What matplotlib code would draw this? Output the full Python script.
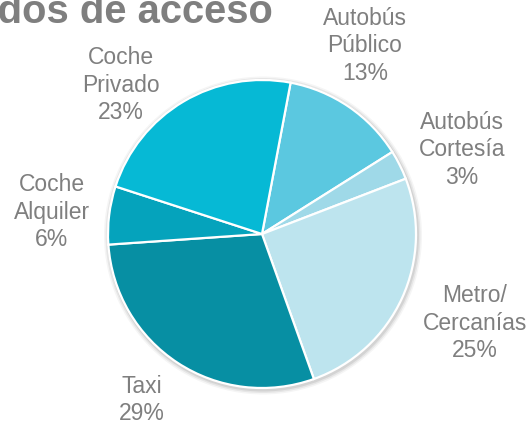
import matplotlib.pyplot as plt
from matplotlib.patches import Circle

plt.rcParams['font.family'] = ['Liberation Sans', 'DejaVu Sans']

# data (share of each access mode, clockwise from the top)
modes = ['Autobús\nPúblico', 'Autobús\nCortesía', 'Metro/\nCercanías',
         'Taxi', 'Coche\nAlquiler', 'Coche\nPrivado']
shares = [13.1, 3.1, 25.4, 29.4, 6.1, 23.0]
colors = ['#5BC8E0', '#9FD9E8', '#BDE4EE', '#078FA3', '#05A3BC', '#06B9D5']

# label positions in pixels (x, y from top)
label_pos = [(365, 46), (462, 150), (475, 323), (142, 400), (52, 212), (121, 85)]

W, H = 528, 424
fig = plt.figure(figsize=(W / 100, H / 100), dpi=100)
ax = fig.add_axes([0, 0, 1, 1])

cx, cy, r = 262, H - 234, 154

# soft shadow behind the pie
for k, a in [(5, 0.04), (3.5, 0.06), (2, 0.08)]:
    ax.add_patch(Circle((cx + 1, cy - 1.5), r + k, color='black', alpha=a, lw=0, zorder=0))

ax.pie(shares, colors=colors, startangle=79.3, counterclock=False,
       center=(cx, cy), radius=r,
       wedgeprops=dict(edgecolor='white', linewidth=1.6, zorder=1))

for name, v, (x, y) in zip(modes, shares, label_pos):
    ax.text(x, H - y, f"{name}\n{v:.0f}%", ha='center', va='center',
            fontsize=16.5, color='#7F7F7F', linespacing=1.25)

ax.text(272.5, H - 23.3, 'Modos de acceso', ha='right', va='baseline',
        fontsize=28.8, fontweight='bold', color='#7F7F7F')

ax.set_xlim(0, W)
ax.set_ylim(0, H)
ax.set_aspect('auto')
ax.axis('off')

fig.savefig('out.png', dpi=100)
